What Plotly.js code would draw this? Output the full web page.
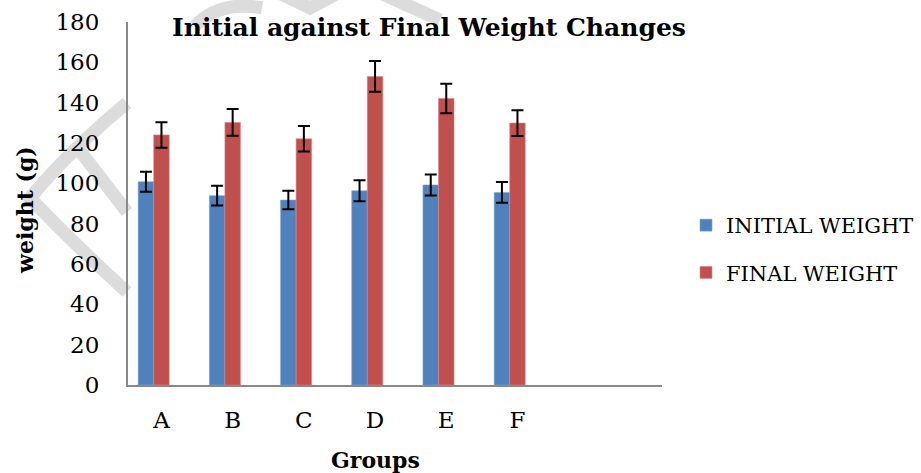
<!DOCTYPE html>
<html>
<head>
<meta charset="utf-8">
<script src="https://cdn.plot.ly/plotly-3.0.1.min.js"></script>
<style>html,body{margin:0;padding:0;background:#fff;}#chart{width:921px;height:473px;}</style>
</head>
<body>
<div id="chart"></div>
<script>
// ---- data ----
const groups = ["A", "B", "C", "D", "E", "F"];
const initialWeight = [100.8, 93.9, 91.7, 96.3, 99.2, 95.5];
const initialErr = [5.0, 4.9, 4.6, 5.2, 5.2, 5.1];
const finalWeight = [124.0, 130.2, 122.1, 153.0, 142.1, 129.9];
const finalErr = [6.3, 6.6, 6.3, 7.6, 7.3, 6.4];
const seriesNames = ["INITIAL WEIGHT", "FINAL WEIGHT"];
const yTicks = [0, 20, 40, 60, 80, 100, 120, 140, 160, 180];

// ---- layout constants ----
const W = 921, H = 473;
const M = {l: 128, r: 259, t: 22, b: 88, autoexpand: false};
const PW = W - M.l - M.r, PH = H - M.t - M.b;
const FONT = "DejaVu Serif";
const GRAY = "#dcdcdc";

// pixel -> paper helpers for the faint background watermark
function px(x) { return ((x - M.l) / PW).toFixed(4); }
function py(y) { return ((H - M.b - y) / PH).toFixed(4); }
function P(x, y) { return px(x) + "," + py(y); }
const wm = [
  "M" + P(127, 103) + " Q" + P(70, 150) + " " + P(30, 198) + " Q" + P(75, 245) + " " + P(127, 292),
  "M" + P(77, 147) + " L" + P(127, 212),
  "M" + P(195, 26) + " Q" + P(220, 0) + " " + P(262, 8),
  "M" + P(277, -8) + " L" + P(310, 8) + " L" + P(340, -8),
  "M" + P(378, -8) + " L" + P(440, 20)
];
const shapes = wm.map(d => ({
  type: "path", xref: "paper", yref: "paper", path: d, layer: "below",
  line: {color: GRAY, width: 13}
}));

const barW = 0.218;
const traces = [
  {
    type: "bar", name: seriesNames[0], x: groups, y: initialWeight,
    width: barW, offset: -1.5 * barW,
    marker: {color: "#4F81BD", line: {color: "#7da2d3", width: 0.6}},
    error_y: {type: "data", array: initialErr, visible: true, color: "#000", thickness: 2, width: 6},
    legendgroup: "g1"
  },
  {
    type: "bar", name: seriesNames[1], x: groups, y: finalWeight,
    width: barW, offset: -0.5 * barW,
    marker: {color: "#C0504D", line: {color: "#d98886", width: 0.6}},
    error_y: {type: "data", array: finalErr, visible: true, color: "#000", thickness: 2, width: 6},
    legendgroup: "g2"
  }
];

const layout = {
  width: W, height: H,
  margin: M,
  paper_bgcolor: "#fff", plot_bgcolor: "#fff",
  font: {family: FONT, size: 23, color: "#000"},
  showlegend: true,
  title: {
    text: "<b>Initial against Final Weight Changes</b>",
    font: {family: FONT, size: 25, color: "#000"},
    xref: "paper", x: (429 - M.l) / PW, xanchor: "center",
    yref: "container", y: 1 - 27 / H, yanchor: "middle"
  },
  xaxis: {
    type: "category", range: [-0.47, 7.03],
    showline: true, linecolor: "#898989", linewidth: 2,
    showgrid: false, zeroline: false, ticks: "",
    ticklabelstandoff: 13,
    tickfont: {family: FONT, size: 23, color: "#000"},
    fixedrange: true
  },
  yaxis: {
    range: [0, 180], tickvals: yTicks, ticktext: yTicks.map(String),
    showline: true, linecolor: "#898989", linewidth: 2,
    showgrid: false, zeroline: false, ticks: "",
    ticklabelstandoff: 22,
    tickfont: {family: FONT, size: 23, color: "#000"},
    fixedrange: true
  },
  legend: {
    x: (686 - M.l) / PW, xanchor: "left", y: (H - M.b - 205) / PH, yanchor: "top",
    font: {family: FONT, size: 21, color: "#000"},
    traceorder: "grouped", tracegroupgap: 17,
    bgcolor: "rgba(0,0,0,0)", borderwidth: 0, itemwidth: 30
  },
  annotations: [
    {text: "<b>Groups</b>", xref: "paper", yref: "paper",
     x: (375 - M.l) / PW, y: (H - M.b - 460) / PH, xanchor: "center", yanchor: "middle",
     showarrow: false, font: {family: FONT, size: 22, color: "#000"}},
    {text: "<b>weight (g)</b>", xref: "paper", yref: "paper", textangle: -90,
     x: (25 - M.l) / PW, y: (H - M.b - 210) / PH, xanchor: "center", yanchor: "middle",
     showarrow: false, font: {family: FONT, size: 22, color: "#000"}}
  ],
  shapes: shapes,
  bargap: 0.35
};

Plotly.newPlot("chart", traces, layout, {displayModeBar: false, staticPlot: true});
</script>
</body>
</html>
